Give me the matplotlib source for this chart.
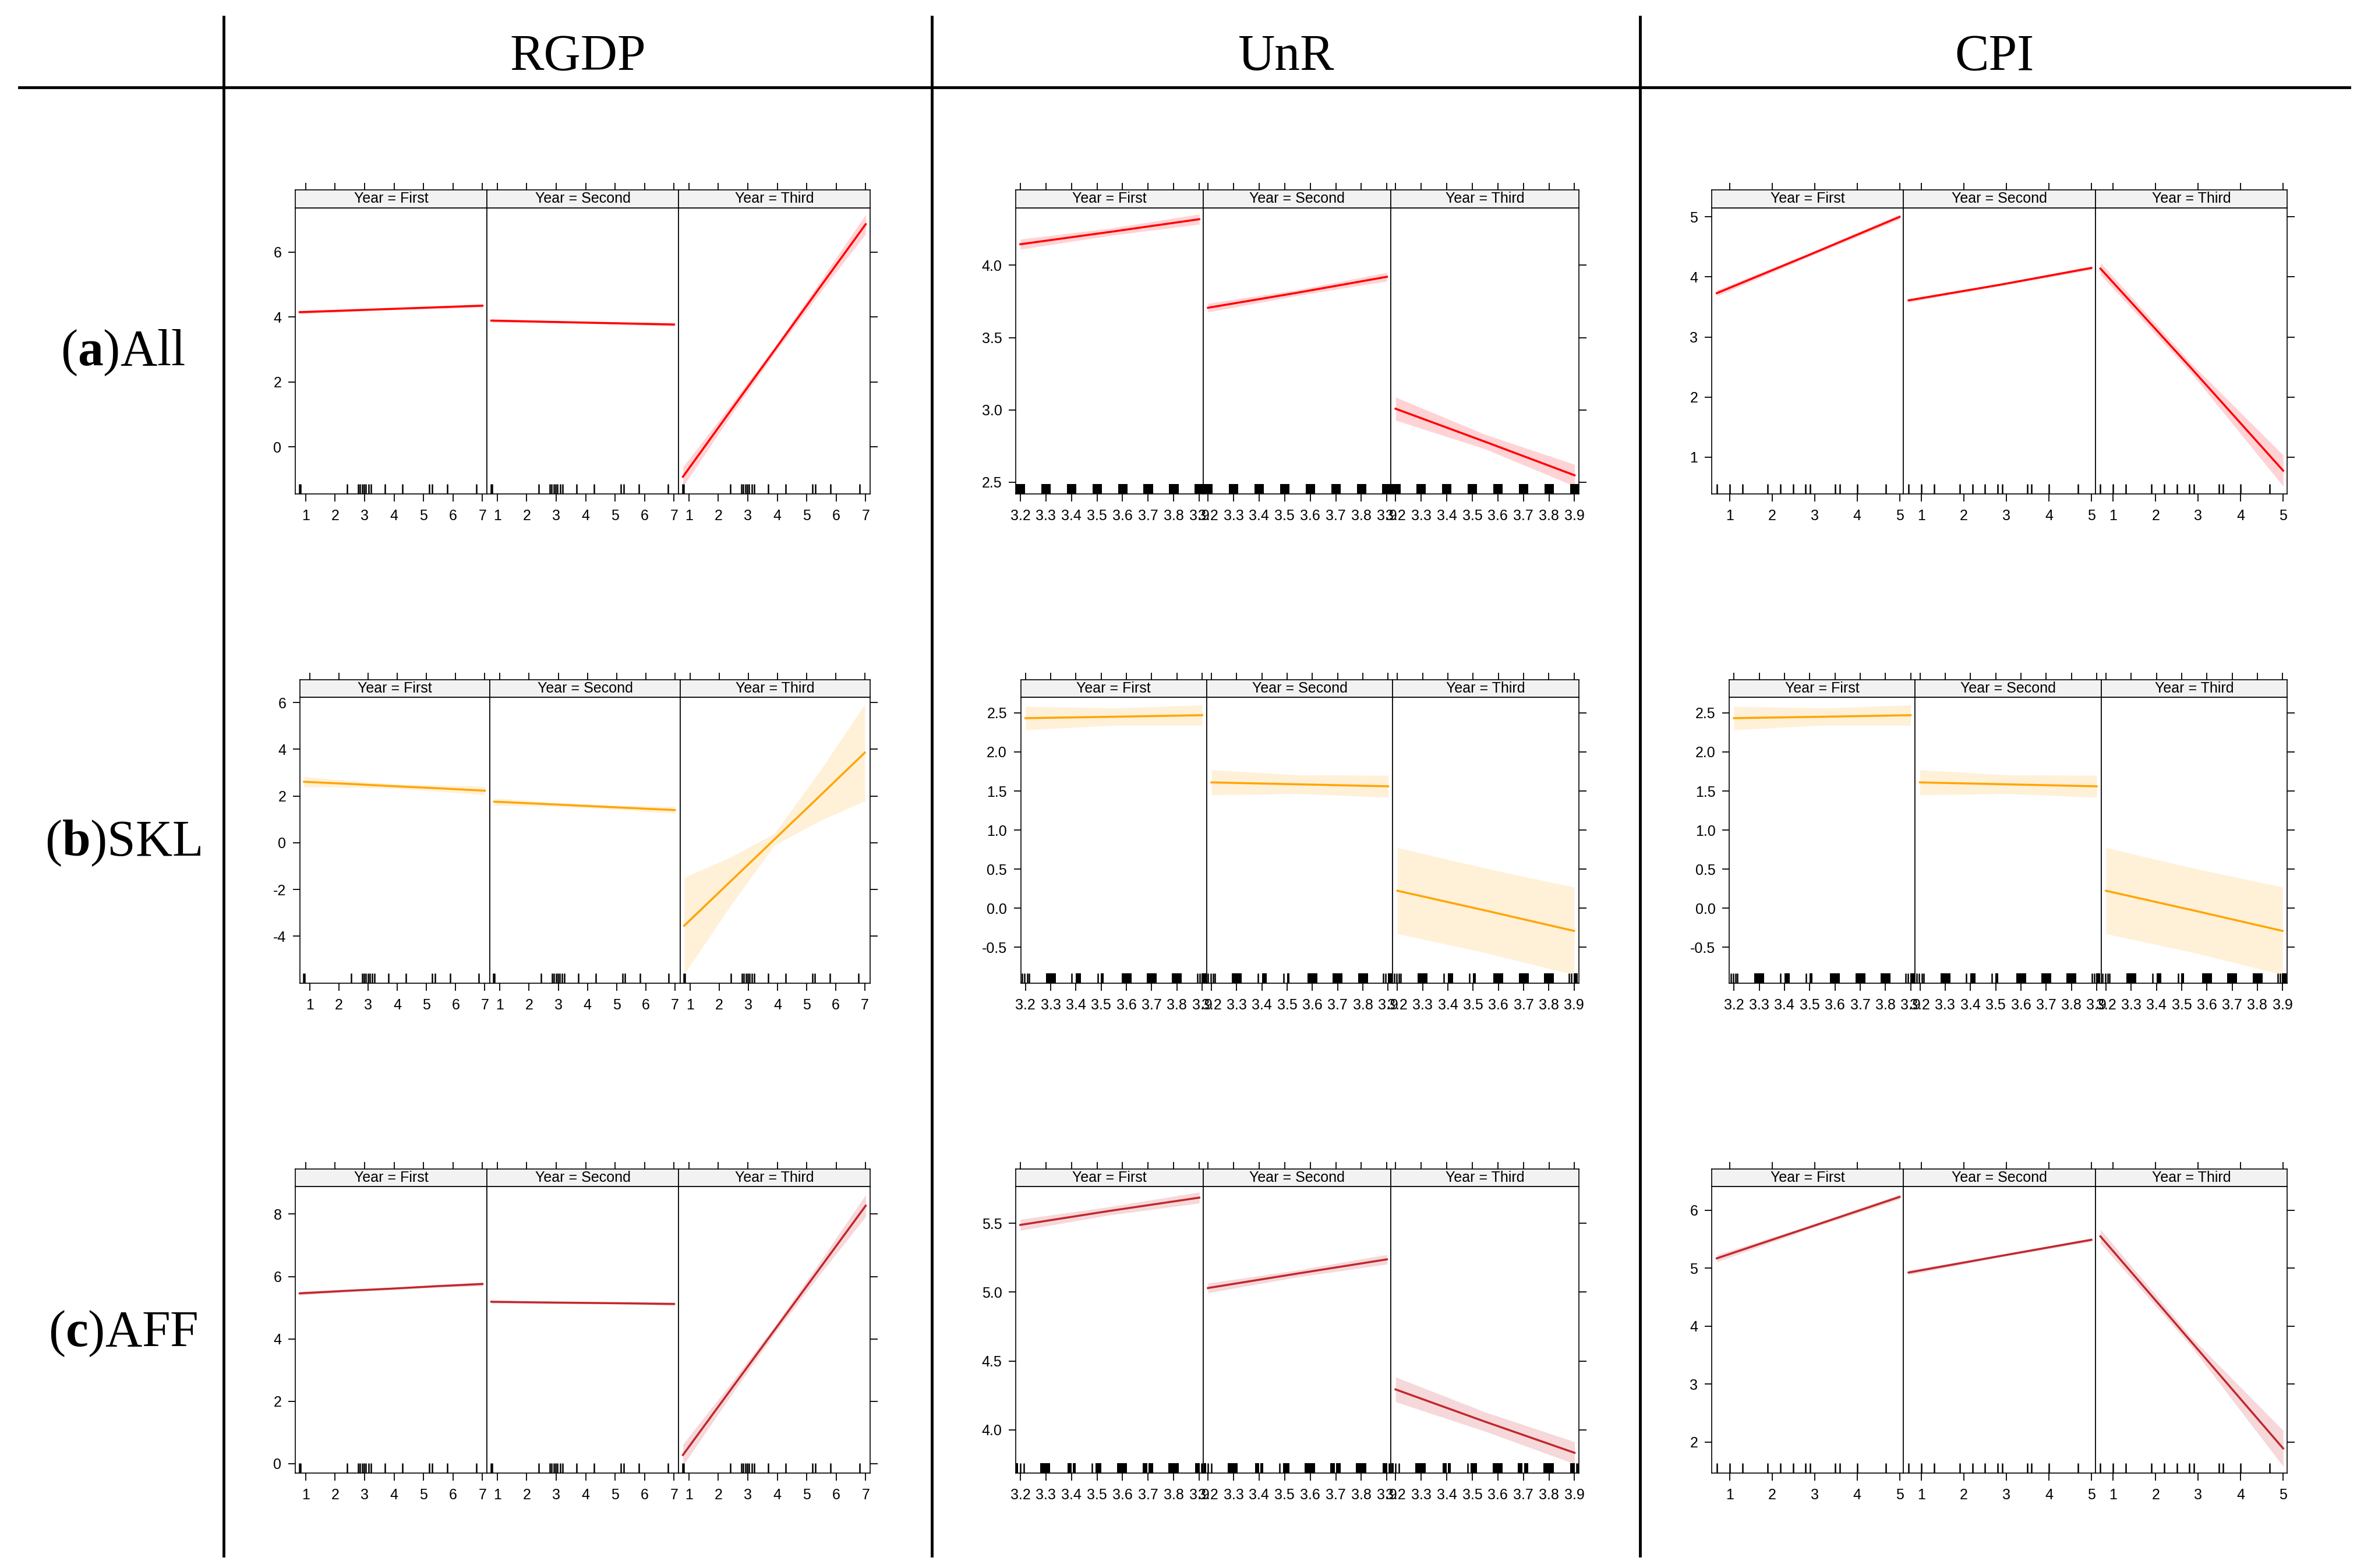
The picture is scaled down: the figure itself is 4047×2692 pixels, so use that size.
import numpy as np
import matplotlib.pyplot as plt
from matplotlib.lines import Line2D

W, H = 4047, 2692  # output size in pixels (dpi=100)

plt.rcParams['mathtext.fontset'] = 'custom'
plt.rcParams['mathtext.rm'] = 'Liberation Serif'
plt.rcParams['mathtext.bf'] = 'Liberation Serif:bold'
sans = ['Liberation Sans', 'DejaVu Sans']
serif = ['Liberation Serif', 'DejaVu Serif']

# ---------------- data ----------------
years = ['First', 'Second', 'Third']
col_titles = ['RGDP', 'UnR', 'CPI']
row_letters = ['a', 'b', 'c']
row_names = ['All', 'SKL', 'AFF']

# x grids of the effect lines
rgdp_x = [0.8, 2.35, 3.9, 5.45, 7.0]
unr_x = [3.2, 3.55, 3.9]
cpi_x = [0.7, 2.85, 5.0]

rgdp_ticks = [1, 2, 3, 4, 5, 6, 7]
unr_ticks = [3.2, 3.3, 3.4, 3.5, 3.6, 3.7, 3.8, 3.9]
unr_labels = ['3.2', '3.3', '3.4', '3.5', '3.6', '3.7', '3.8', '3.9']
cpi_ticks = [1, 2, 3, 4, 5]

# rug values
rgdp_rug = [0.78, 0.82, 2.41, 2.79, 2.85, 2.92, 2.99, 3.05, 3.13, 3.21,
            3.69, 4.29, 5.20, 5.29, 5.81, 6.79]
cpi_rug = [0.70, 1.00, 1.30, 1.90, 2.20, 2.50, 2.79, 2.90, 3.49, 3.59, 4.00, 4.68]
all_unr_rug = []
all_unr_rug_spans = [[3.182, 3.219], [3.282, 3.319], [3.382, 3.419], [3.482, 3.519],
                     [3.582, 3.619], [3.682, 3.719], [3.782, 3.819], [3.882, 3.916]]
skl_unr_rug = [3.187, 3.197, 3.207, 3.214, 3.384, 3.486, 3.881, 3.890]
skl_unr_rug_spans = [[3.281, 3.320], [3.400, 3.420], [3.499, 3.510], [3.581, 3.620],
                     [3.681, 3.720], [3.781, 3.820], [3.898, 3.915]]
aff_unr_rug = [3.200, 3.213, 3.481, 3.908, 3.913]
aff_unr_rug_spans = [[3.183, 3.192], [3.278, 3.317], [3.385, 3.400], [3.405, 3.417],
                     [3.494, 3.518], [3.579, 3.618], [3.678, 3.696], [3.702, 3.720],
                     [3.778, 3.820], [3.883, 3.902]]

# (a) All
all_rgdp_fit = [[4.15, 4.20, 4.25, 4.30, 4.35],
                [3.89, 3.86, 3.83, 3.80, 3.77],
                [-0.92, 1.03, 2.97, 4.92, 6.86]]
all_rgdp_half = [[0.05, 0.04, 0.03, 0.04, 0.05],
                 [0.05, 0.04, 0.03, 0.04, 0.05],
                 [0.30, 0.17, 0.10, 0.17, 0.30]]
all_unr_fit = [[4.145, 4.23, 4.318], [3.706, 3.81, 3.92], [3.008, 2.78, 2.548]]
all_unr_half = [[0.035, 0.025, 0.035], [0.03, 0.02, 0.03], [0.08, 0.05, 0.075]]
all_cpi_fit = [[3.73, 4.36, 5.0], [3.61, 3.87, 4.15], [4.14, 2.47, 0.775]]
all_cpi_half = [[0.05, 0.03, 0.04], [0.03, 0.02, 0.03], [0.10, 0.08, 0.26]]

# (b) SKL
skl_rgdp_fit = [[2.61, 2.52, 2.42, 2.33, 2.23],
                [1.76, 1.67, 1.58, 1.49, 1.40],
                [-3.55, -1.70, 0.15, 2.00, 3.86]]
skl_rgdp_half = [[0.22, 0.14, 0.10, 0.13, 0.18],
                 [0.15, 0.10, 0.08, 0.10, 0.15],
                 [2.07, 1.06, 0.25, 1.06, 2.07]]
skl_unr_fit = [[2.432, 2.45, 2.47], [1.61, 1.585, 1.56], [0.224, -0.03, -0.29]]
skl_unr_half = [[0.15, 0.11, 0.13], [0.16, 0.12, 0.14], [0.55, 0.54, 0.56]]
# the CPI cell of row (b) repeats the UnR panel in the source figure
skl_cpi_fit = [[2.432, 2.45, 2.47], [1.61, 1.585, 1.56], [0.224, -0.03, -0.29]]
skl_cpi_half = [[0.15, 0.11, 0.13], [0.16, 0.12, 0.14], [0.55, 0.54, 0.56]]

# (c) AFF
aff_rgdp_fit = [[5.46, 5.54, 5.61, 5.69, 5.76],
                [5.19, 5.17, 5.155, 5.14, 5.12],
                [0.28, 2.28, 4.275, 6.27, 8.27]]
aff_rgdp_half = [[0.06, 0.04, 0.03, 0.04, 0.06],
                 [0.05, 0.03, 0.03, 0.03, 0.05],
                 [0.34, 0.20, 0.12, 0.20, 0.35]]
aff_unr_fit = [[5.488, 5.59, 5.686], [5.03, 5.135, 5.238], [4.294, 4.06, 3.834]]
aff_unr_half = [[0.04, 0.03, 0.04], [0.035, 0.025, 0.035], [0.09, 0.07, 0.08]]
aff_cpi_fit = [[5.17, 5.70, 6.23], [4.925, 5.21, 5.49], [5.55, 3.72, 1.89]]
aff_cpi_half = [[0.06, 0.03, 0.04], [0.04, 0.02, 0.03], [0.12, 0.08, 0.31]]

yt_all_rgdp = [0, 2, 4, 6]
yt_all_unr = [2.5, 3.0, 3.5, 4.0]
yt_all_cpi = [1, 2, 3, 4, 5]
yt_skl_rgdp = [-4, -2, 0, 2, 4, 6]
yt_skl_unr = [-0.5, 0.0, 0.5, 1.0, 1.5, 2.0, 2.5]
yt_aff_rgdp = [0, 2, 4, 6, 8]
yt_aff_unr = [4.0, 4.5, 5.0, 5.5]
yt_aff_cpi = [2, 3, 4, 5, 6]

# ---------------- layout / style ----------------
line_cols = ['#FF0000', '#FFA500', '#C1272D']
band_cols = ['#FFD3D6', '#FFF0D8', '#F6D8DA']
row_y = [(326, 356.5, 848), (1167, 1197, 1688), (2007, 2037, 2529)]  # strip top, strip bottom, panel bottom
rug_h = 0.035
tick_fs = 18

fig = plt.figure(figsize=(W / 100, H / 100), dpi=100)


def fig_line(x0, y0, x1, y1, lw=3.5):
    fig.add_artist(Line2D([x0 / W, x1 / W], [1 - y0 / H, 1 - y1 / H],
                          transform=fig.transFigure, color='black', lw=lw))


def draw_group(r, left, right, xlim, ylim, xs, fits, halves, xticks, xlabels,
               yticks, ylabels, rug, rug_spans):
    top, sbot, pbot = row_y[r]
    pw = (right - left) / 3.0
    for i in range(3):
        x0 = left + i * pw
        ax = fig.add_axes([x0 / W, 1 - pbot / H, pw / W, (pbot - sbot) / H])
        sx = fig.add_axes([x0 / W, 1 - sbot / H, pw / W, (sbot - top) / H])
        fit = np.array(fits[i])
        half = np.array(halves[i])
        ax.fill_between(xs, fit - half, fit + half, color=band_cols[r], lw=0, zorder=1)
        ax.plot(xs, fit, color=line_cols[r], lw=2.5, zorder=3)
        ax.vlines(rug, 0, rug_h, transform=ax.get_xaxis_transform(),
                  color='black', lw=1.8, zorder=4)
        for a, b in rug_spans:
            ax.axvspan(a, b, ymin=0, ymax=rug_h, color='black', lw=0, zorder=4)
        ax.set_xlim(xlim)
        ax.set_ylim(ylim)
        ax.set_xticks(xticks, labels=xlabels, fontsize=tick_fs, family=sans)
        ax.set_yticks(yticks, labels=ylabels, fontsize=tick_fs, family=sans)
        ax.tick_params(axis='x', direction='out', length=9, width=1.3, pad=10)
        ax.tick_params(axis='y', direction='out', length=9, width=1.3, pad=8,
                       left=(i == 0), labelleft=(i == 0), right=(i == 2), labelright=False)
        for s in ax.spines.values():
            s.set_linewidth(1.2)

        sx.set_facecolor('#F2F2F2')
        sx.set_xlim(xlim)
        sx.set_xticks(xticks)
        sx.set_yticks([])
        sx.tick_params(axis='x', direction='out', length=9, width=1.3,
                       top=True, bottom=False, labeltop=False, labelbottom=False)
        for s in sx.spines.values():
            s.set_linewidth(1.2)
        sx.text(0.5, 0.5, 'Year = ' + years[i], transform=sx.transAxes,
                ha='center', va='center', fontsize=18, family=sans)


rgdp_lab = [str(t) for t in rgdp_ticks]
cpi_lab = [str(t) for t in cpi_ticks]

# row (a) All
draw_group(0, 507, 1494, (0.65, 7.15), (-1.45, 7.37), rgdp_x, all_rgdp_fit, all_rgdp_half,
           rgdp_ticks, rgdp_lab, yt_all_rgdp, [str(v) for v in yt_all_rgdp], rgdp_rug, [])
draw_group(0, 1744, 2710.5, (3.182, 3.916), (2.419, 4.398), unr_x, all_unr_fit, all_unr_half,
           unr_ticks, unr_labels, yt_all_unr, ['%.1f' % v for v in yt_all_unr],
           all_unr_rug, all_unr_rug_spans)
draw_group(0, 2939, 3927, (0.58, 5.093), (0.387, 5.154), cpi_x, all_cpi_fit, all_cpi_half,
           cpi_ticks, cpi_lab, yt_all_cpi, [str(v) for v in yt_all_cpi], cpi_rug, [])

# row (b) SKL
draw_group(1, 515, 1494, (0.658, 7.18), (-6.01, 6.23), rgdp_x, skl_rgdp_fit, skl_rgdp_half,
           rgdp_ticks, rgdp_lab, yt_skl_rgdp, [str(v) for v in yt_skl_rgdp], rgdp_rug, [])
draw_group(1, 1752.5, 2710.5, (3.181, 3.918), (-0.959, 2.70), unr_x, skl_unr_fit, skl_unr_half,
           unr_ticks, unr_labels, yt_skl_unr, ['%.1f' % v for v in yt_skl_unr],
           skl_unr_rug, skl_unr_rug_spans)
draw_group(1, 2969, 3927, (3.181, 3.918), (-0.959, 2.70), unr_x, skl_cpi_fit, skl_cpi_half,
           unr_ticks, unr_labels, yt_skl_unr, ['%.1f' % v for v in yt_skl_unr],
           skl_unr_rug, skl_unr_rug_spans)

# row (c) AFF
draw_group(2, 507, 1494, (0.65, 7.15), (-0.30, 8.885), rgdp_x, aff_rgdp_fit, aff_rgdp_half,
           rgdp_ticks, rgdp_lab, yt_aff_rgdp, [str(v) for v in yt_aff_rgdp], rgdp_rug, [])
draw_group(2, 1744, 2710.5, (3.182, 3.916), (3.687, 5.767), unr_x, aff_unr_fit, aff_unr_half,
           unr_ticks, unr_labels, yt_aff_unr, ['%.1f' % v for v in yt_aff_unr],
           aff_unr_rug, aff_unr_rug_spans)
draw_group(2, 2939, 3927, (0.58, 5.093), (1.465, 6.41), cpi_x, aff_cpi_fit, aff_cpi_half,
           cpi_ticks, cpi_lab, yt_aff_cpi, [str(v) for v in yt_aff_cpi], cpi_rug, [])

# table frame
fig_line(33, 150, 4034, 150)
for xv in [384, 1600, 2816]:
    fig_line(xv, 29, xv, 2671)

for xc, title in zip([992, 2208, 3425], col_titles):
    fig.text(xc / W, 1 - 120 / H, title, ha='center', va='baseline', fontsize=63, family=serif)

for yb, let, name in zip([627, 1469, 2311], row_letters, row_names):
    fig.text(211 / W, 1 - yb / H, '(' + r'$\mathbf{' + let + '}$' + ')' + name,
             ha='center', va='baseline', fontsize=63, family=serif)

fig.savefig('out.png', dpi=100, facecolor='white')
